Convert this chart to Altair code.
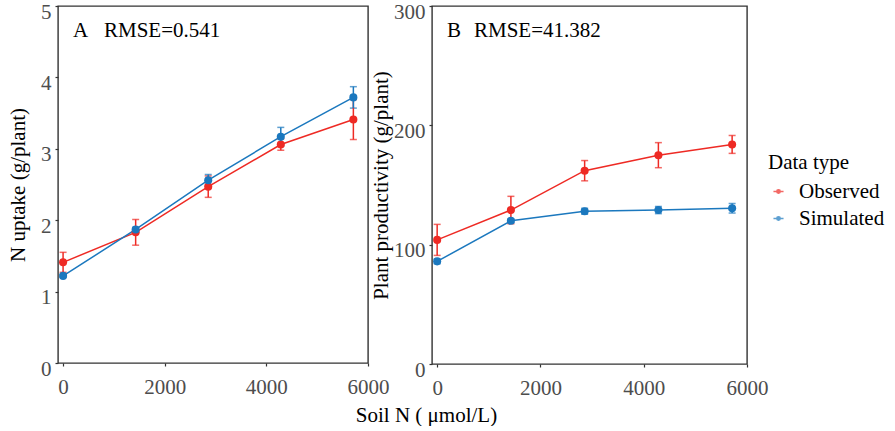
import altair as alt
import pandas as pd

# ---- data ----
soil_n = [0, 1428, 2856, 4284, 5712]
types = ["Observed", "Simulated"]

obs_a = [1.41, 1.83, 2.47, 3.06, 3.41]
obs_a_err = [0.14, 0.18, 0.15, 0.08, 0.28]
sim_a = [1.22, 1.87, 2.56, 3.17, 3.72]
sim_a_err = [0.02, 0.03, 0.08, 0.13, 0.15]

obs_b = [104, 129, 162, 175, 184]
obs_b_err = [13, 11.5, 8.5, 10.5, 7.5]
sim_b = [86, 120, 128, 129, 130.5]
sim_b_err = [2, 1.5, 2.5, 3, 4]

colors = ["#EE2A24", "#1B78BE"]
FONT = "Liberation Serif"


def frame(obs, obs_err, sim, sim_err):
    rows = []
    for t, vals, errs in [("Observed", obs, obs_err), ("Simulated", sim, sim_err)]:
        for x, v, e in zip(soil_n, vals, errs):
            rows.append({"soil": x, "value": v, "lo": v - e, "hi": v + e, "type": t})
    return pd.DataFrame(rows)


df_a = frame(obs_a, obs_a_err, sim_a, sim_a_err)
df_b = frame(obs_b, obs_b_err, sim_b, sim_b_err)

color_scale = alt.Scale(domain=types, range=colors)


def panel(df, ymax, yvalues, ytitle, letter, rmse, show_legend, xtitle, ytitle_pad, rmse_x):
    xkw = dict(values=[0, 2000, 4000, 6000], grid=False, domain=False, format="d",
               labelFlush=False, labelPadding=10)
    if xtitle:
        xaxis = alt.Axis(title=xtitle, titleX=368, titleY=52, titleAlign="center",
                         titleBaseline="middle", **xkw)
    else:
        xaxis = alt.Axis(title=None, **xkw)
    x = alt.X("soil:Q", scale=alt.Scale(domain=[-100, 6000], nice=False, zero=False),
              axis=xaxis)
    y = alt.Y("value:Q", scale=alt.Scale(domain=[0, ymax], nice=False),
              axis=alt.Axis(values=yvalues, title=ytitle, grid=False, domain=False,
                            format="d", labelFlush=False, labelOffset=6, labelPadding=4,
                            titlePadding=ytitle_pad))
    if show_legend:
        legend = alt.Legend(
            title="Data type", orient="none", legendX=336, legendY=146,
            symbolType="M-1.25,0L1.25,0M0,-0.43A0.43,0.43,0,1,1,0,0.43A0.43,0.43,0,1,1,0,-0.43Z",
            symbolSize=65, symbolStrokeWidth=1.5,
            titleFontSize=21, labelFontSize=21, titleFont=FONT, labelFont=FONT,
            titleFontWeight="normal", titleColor="black", labelColor="black",
            rowPadding=5, titlePadding=8, labelOffset=10,
        )
    else:
        legend = None
    color = alt.Color("type:N", scale=color_scale, legend=legend)

    base = alt.Chart(df)
    line = base.mark_line(strokeWidth=1.5).encode(x=x, y=y, color=color)
    err = base.mark_errorbar(ticks={"size": 7, "thickness": 1.5}, thickness=1.5).encode(
        x=x, y=alt.Y("lo:Q", title=ytitle), y2="hi:Q", color=color)
    pts = base.mark_point(filled=True, size=65, opacity=1).encode(x=x, y=y, color=color)
    lab1 = alt.Chart(pd.DataFrame({"t": [letter]})).mark_text(
        font=FONT, fontSize=21, align="left", baseline="middle", color="black"
    ).encode(text="t:N", x=alt.value(15), y=alt.value(25))
    lab2 = alt.Chart(pd.DataFrame({"t": [rmse]})).mark_text(
        font=FONT, fontSize=21, align="left", baseline="middle", color="black"
    ).encode(text="t:N", x=alt.value(rmse_x), y=alt.value(25))
    return alt.layer(line, err, pts, lab1, lab2)


a = panel(df_a, 5, [0, 1, 2, 3, 4, 5], "N uptake (g/plant)", "A", "RMSE=0.541",
          False, "Soil N ( μmol/L)", 12, 46).properties(width=310, height=357)
b = panel(df_b, 300, [0, 100, 200, 300], "Plant productivity (g/plant)", "B",
          "RMSE=41.382", True, None, 2, 42).properties(width=315, height=358)

chart = alt.hconcat(a, b, spacing=64, bounds="flush").resolve_scale(
    color="independent", y="independent", x="independent"
).properties(
    padding={"left": 6, "top": 0, "right": 0, "bottom": 0},
    background="white",
).configure_view(
    stroke="#333333", strokeWidth=1.4
).configure_axis(
    labelFont=FONT, titleFont=FONT, labelFontSize=21, titleFontSize=21,
    labelColor="#4D4D4D", titleColor="black", titleFontWeight="normal",
    tickColor="#333333", tickSize=3, tickWidth=1.2,
)

chart.save("out.html", embed_options={"renderer": "svg", "actions": False})
